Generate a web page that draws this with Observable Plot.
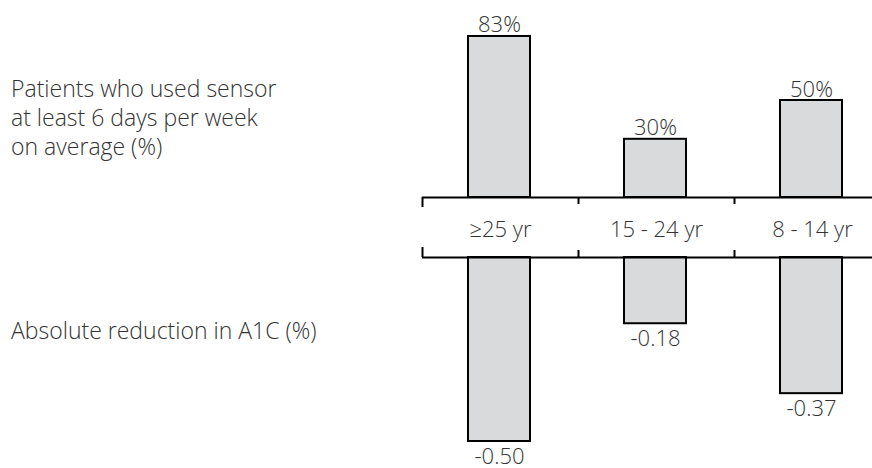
<!DOCTYPE html>
<html>
<head>
<meta charset="utf-8">
<script src="https://cdn.jsdelivr.net/npm/d3@7"></script>
<script src="https://cdn.jsdelivr.net/npm/@observablehq/plot@0.6"></script>
<style>
  html, body { margin: 0; padding: 0; background: #fff; }
  #chart { position: relative; width: 872px; height: 468px; overflow: hidden; }
  #chart svg { position: absolute; top: 0; left: 0; background: transparent !important; max-width: none !important; }
  .row-label {
    position: absolute; left: 11px; margin: 0;
    font-family: "Open Sans", sans-serif; font-size: 23px; font-weight: 300; line-height: 29px;
    color: #333; white-space: pre;
  }
</style>
</head>
<body>
<div id="chart"></div>
<script>
// Age groups and the two measures reported for each
const groups = ["≥25 yr", "15 - 24 yr", "8 - 14 yr"];
const sensorUse = [83, 30, 50];            // % of patients using the sensor ≥ 6 days/week
const a1cChange = [-0.50, -0.18, -0.37];   // absolute change in A1C (%)
const rowLabels = [
  "Patients who used sensor\nat least 6 days per week\non average (%)",
  "Absolute reduction in A1C (%)"
];

const rows = groups.map((group, i) => ({group, use: sensorUse[i], a1c: a1cChange[i]}));

const font = {fontFamily: "Open Sans, sans-serif", fontSize: 22, fontWeight: 300, fill: "#333"};
const barStyle = {fill: "#d9dadc", stroke: "#000", strokeWidth: 2};
const W = 872, H = 468;
const barX = {type: "band", domain: groups, range: [420.5, 890], paddingInner: 0.6, paddingOuter: 0.3, axis: null};

const chart = document.getElementById("chart");

// Upper panel: sensor use, bars rising from the band
chart.appendChild(Plot.plot({
  width: W, height: H, margin: 0,
  x: barX,
  y: {domain: [0, 100], range: [197, 3], axis: null},
  marks: [
    Plot.barY(rows, {x: "group", y: "use", ...barStyle}),
    Plot.text(rows, {x: "group", y: "use", text: d => `${d.use}%`, lineAnchor: "bottom", dy: -4, ...font})
  ]
}));

// Lower panel: A1C change, bars hanging below the band
chart.appendChild(Plot.plot({
  width: W, height: H, margin: 0,
  x: barX,
  y: {domain: [0, -1], range: [257, 625], axis: null},
  marks: [
    Plot.barY(rows, {x: "group", y: "a1c", ...barStyle}),
    Plot.text(rows, {x: "group", y: "a1c", text: d => d.a1c.toFixed(2), lineAnchor: "top", dy: 7, ...font})
  ]
}));

// Middle band holding the age-group labels
const bandRange = [422, 890];
const halfStep = (bandRange[1] - bandRange[0]) / groups.length / 2;
chart.appendChild(Plot.plot({
  width: W, height: H,
  marginLeft: 422, marginRight: 0, marginTop: 197, marginBottom: H - 257,
  x: {type: "band", domain: groups, range: bandRange, padding: 0, axis: null},
  y: {domain: [0, 60], range: [257, 197], axis: null},
  marks: [
    Plot.ruleY([0, 60], {stroke: "#000", strokeWidth: 2}),
    Plot.ruleX(groups, {x: d => d, dx: -halfStep, y1: 60, y2: (d, i) => (i === 0 ? 50 : 53), stroke: "#000", strokeWidth: 2}),
    Plot.ruleX(groups, {x: d => d, dx: -halfStep, y1: 0, y2: (d, i) => (i === 0 ? 10 : 7), stroke: "#000", strokeWidth: 2}),
    Plot.text(groups, {x: d => d, frameAnchor: "middle", dy: 2, text: d => d, ...font})
  ]
}));

// Row captions on the left
const tops = [74, 316];
rowLabels.forEach((label, i) => {
  const p = document.createElement("p");
  p.className = "row-label";
  p.style.top = tops[i] + "px";
  p.textContent = label;
  chart.appendChild(p);
});
</script>
</body>
</html>
